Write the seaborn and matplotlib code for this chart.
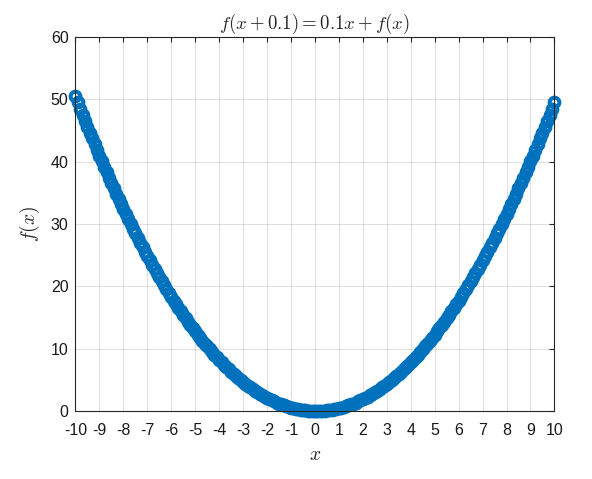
import matplotlib
matplotlib.use('Agg')

import seaborn as sns
import matplotlib.pyplot as plt

# x from -10 to 0 and 0.1 to 10, f(x) (f(x+0.1) = 0.1x + f(x), f(0) = 0)
x_left = [-10.0,
          -9.9, -9.8, -9.7, -9.6, -9.5, -9.4, -9.3, -9.2, -9.1, -9.0,
          -8.9, -8.8, -8.7, -8.6, -8.5, -8.4, -8.3, -8.2, -8.1, -8.0,
          -7.9, -7.8, -7.7, -7.6, -7.5, -7.4, -7.3, -7.2, -7.1, -7.0,
          -6.9, -6.8, -6.7, -6.6, -6.5, -6.4, -6.3, -6.2, -6.1, -6.0,
          -5.9, -5.8, -5.7, -5.6, -5.5, -5.4, -5.3, -5.2, -5.1, -5.0,
          -4.9, -4.8, -4.7, -4.6, -4.5, -4.4, -4.3, -4.2, -4.1, -4.0,
          -3.9, -3.8, -3.7, -3.6, -3.5, -3.4, -3.3, -3.2, -3.1, -3.0,
          -2.9, -2.8, -2.7, -2.6, -2.5, -2.4, -2.3, -2.2, -2.1, -2.0,
          -1.9, -1.8, -1.7, -1.6, -1.5, -1.4, -1.3, -1.2, -1.1, -1.0,
          -0.9, -0.8, -0.7, -0.6, -0.5, -0.4, -0.3, -0.2, -0.1, 0.0]
f_left = [50.5,
          49.5, 48.51, 47.53, 46.56, 45.6, 44.65, 43.71, 42.78, 41.86, 40.95,
          40.05, 39.16, 38.28, 37.41, 36.55, 35.7, 34.86, 34.03, 33.21, 32.4,
          31.6, 30.81, 30.03, 29.26, 28.5, 27.75, 27.01, 26.28, 25.56, 24.85,
          24.15, 23.46, 22.78, 22.11, 21.45, 20.8, 20.16, 19.53, 18.91, 18.3,
          17.7, 17.11, 16.53, 15.96, 15.4, 14.85, 14.31, 13.78, 13.26, 12.75,
          12.25, 11.76, 11.28, 10.81, 10.35, 9.9, 9.46, 9.03, 8.61, 8.2,
          7.8, 7.41, 7.03, 6.66, 6.3, 5.95, 5.61, 5.28, 4.96, 4.65,
          4.35, 4.06, 3.78, 3.51, 3.25, 3.0, 2.76, 2.53, 2.31, 2.1,
          1.9, 1.71, 1.53, 1.36, 1.2, 1.05, 0.91, 0.78, 0.66, 0.55,
          0.45, 0.36, 0.28, 0.21, 0.15, 0.1, 0.06, 0.03, 0.01, 0.0]

x_right = [0.1, 0.2, 0.3, 0.4, 0.5, 0.6, 0.7, 0.8, 0.9, 1.0,
           1.1, 1.2, 1.3, 1.4, 1.5, 1.6, 1.7, 1.8, 1.9, 2.0,
           2.1, 2.2, 2.3, 2.4, 2.5, 2.6, 2.7, 2.8, 2.9, 3.0,
           3.1, 3.2, 3.3, 3.4, 3.5, 3.6, 3.7, 3.8, 3.9, 4.0,
           4.1, 4.2, 4.3, 4.4, 4.5, 4.6, 4.7, 4.8, 4.9, 5.0,
           5.1, 5.2, 5.3, 5.4, 5.5, 5.6, 5.7, 5.8, 5.9, 6.0,
           6.1, 6.2, 6.3, 6.4, 6.5, 6.6, 6.7, 6.8, 6.9, 7.0,
           7.1, 7.2, 7.3, 7.4, 7.5, 7.6, 7.7, 7.8, 7.9, 8.0,
           8.1, 8.2, 8.3, 8.4, 8.5, 8.6, 8.7, 8.8, 8.9, 9.0,
           9.1, 9.2, 9.3, 9.4, 9.5, 9.6, 9.7, 9.8, 9.9, 10.0]
f_right = [0.0, 0.01, 0.03, 0.06, 0.1, 0.15, 0.21, 0.28, 0.36, 0.45,
           0.55, 0.66, 0.78, 0.91, 1.05, 1.2, 1.36, 1.53, 1.71, 1.9,
           2.1, 2.31, 2.53, 2.76, 3.0, 3.25, 3.51, 3.78, 4.06, 4.35,
           4.65, 4.96, 5.28, 5.61, 5.95, 6.3, 6.66, 7.03, 7.41, 7.8,
           8.2, 8.61, 9.03, 9.46, 9.9, 10.35, 10.81, 11.28, 11.76, 12.25,
           12.75, 13.26, 13.78, 14.31, 14.85, 15.4, 15.96, 16.53, 17.11, 17.7,
           18.3, 18.91, 19.53, 20.16, 20.8, 21.45, 22.11, 22.78, 23.46, 24.15,
           24.85, 25.56, 26.28, 27.01, 27.75, 28.5, 29.26, 30.03, 30.81, 31.6,
           32.4, 33.21, 34.03, 34.86, 35.7, 36.55, 37.41, 38.28, 39.16, 40.05,
           40.95, 41.86, 42.78, 43.71, 44.65, 45.6, 46.56, 47.53, 48.51, 49.5]

x_ticks = list(range(-10, 11))
y_ticks = [0, 10, 20, 30, 40, 50, 60]

sns.set_theme(style='white')
plt.rcParams['font.family'] = ['Liberation Sans', 'DejaVu Sans']
plt.rcParams['mathtext.fontset'] = 'cm'
plt.rcParams['axes.unicode_minus'] = False

fig = plt.figure(figsize=(5.92, 4.79), dpi=100)
ax = fig.add_axes([0.1275, 0.142, 0.809, 0.781])

sns.lineplot(x=x_left + x_right, y=f_left + f_right, ax=ax, estimator=None,
             linestyle='none', marker='o', markersize=7,
             markerfacecolor='none', markeredgecolor='#0072BD',
             markeredgewidth=2.9, color='#0072BD', clip_on=False)

ax.set_xlim(-10, 10)
ax.set_ylim(0, 60)
ax.set_xticks(x_ticks)
ax.set_yticks(y_ticks)
ax.grid(True, color='#262626', alpha=0.15, linewidth=0.7)
ax.set_axisbelow(True)

for s in ax.spines.values():
    s.set_color('#262626')
    s.set_linewidth(0.8)
ax.tick_params(direction='in', length=3.5, width=0.8, color='#262626',
               top=True, right=True, labelsize=11.5, labelcolor='#1a1a1a', pad=5)
ax.tick_params(axis='x', pad=9)

ax.set_title(r'$f(x+0.1)=0.1x+f(x)$', fontsize=13.5, pad=6)
ax.set_xlabel(r'$x$', fontsize=14, labelpad=6)
ax.set_ylabel(r'$f(x)$', fontsize=14, labelpad=6)

plt.savefig('out.png', dpi=100)
plt.close()
